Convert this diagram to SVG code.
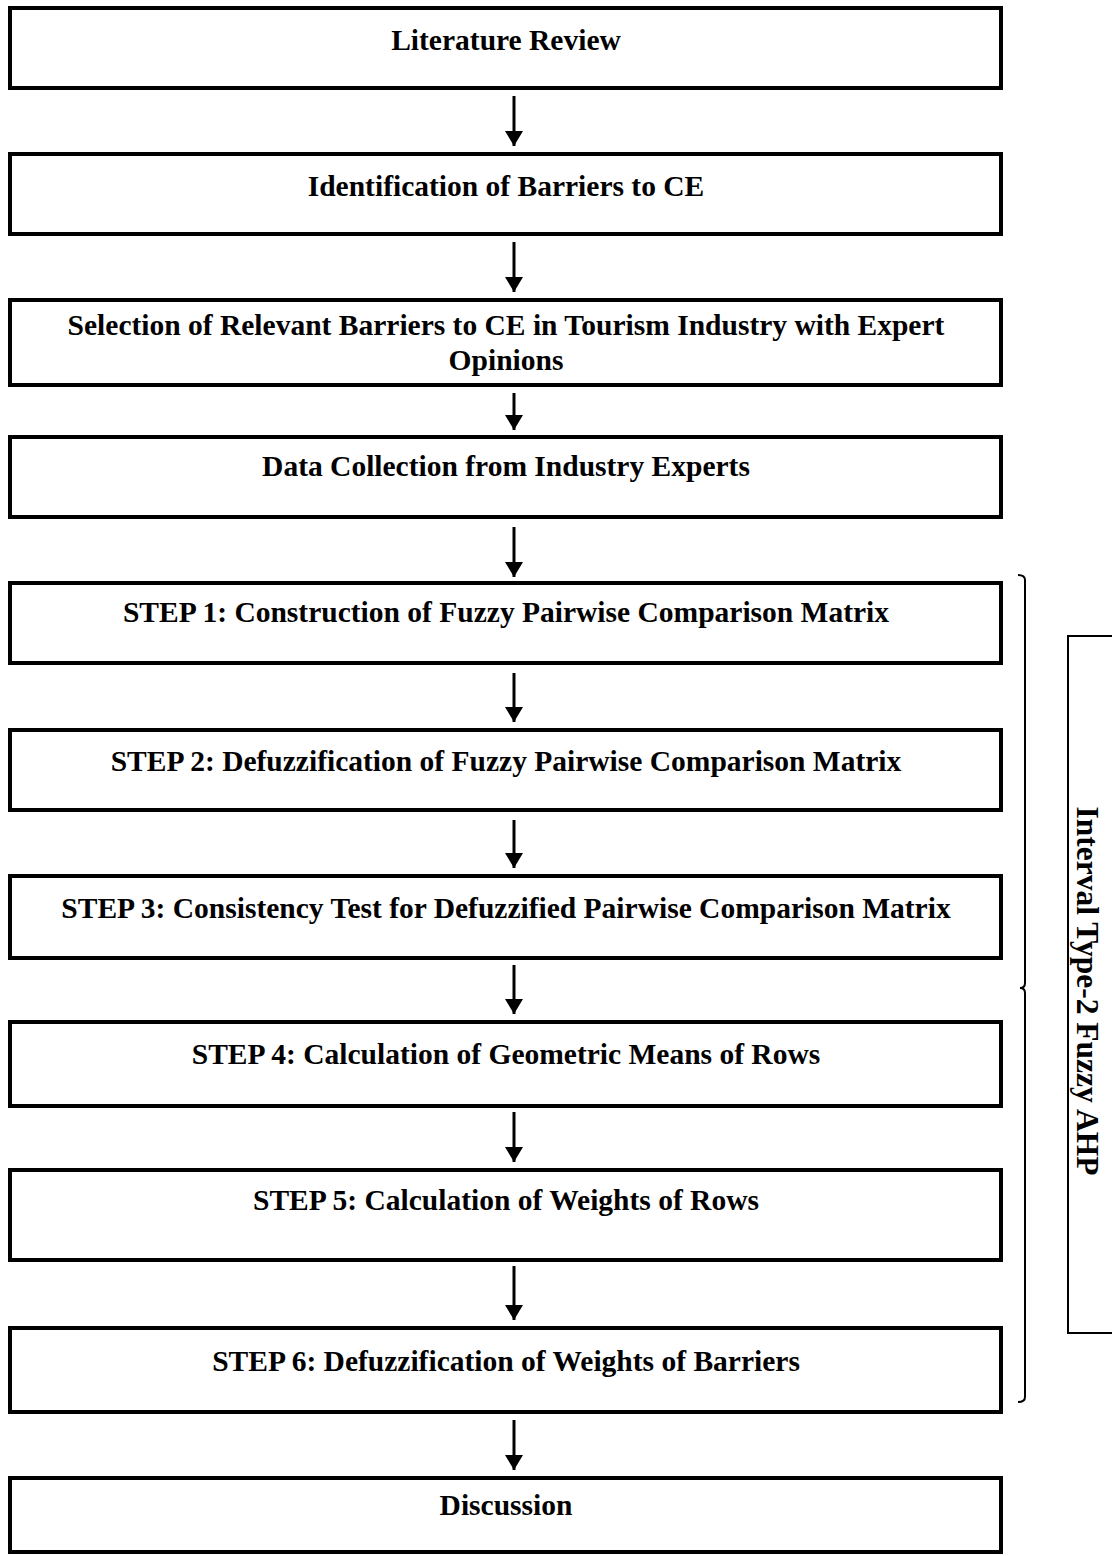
<svg xmlns="http://www.w3.org/2000/svg" width="1112" height="1556" viewBox="0 0 1112 1556">
<style>
.box{fill:#fff;stroke:#000;stroke-width:4}
.t{font-family:"Liberation Serif","Times New Roman",serif;font-weight:bold;font-size:29.5px;text-anchor:middle;fill:#000}
.v{font-size:31.5px}
.c{stroke:#000;stroke-width:3;fill:none}
.thin{stroke:#000;stroke-width:2;fill:none}
</style>
<defs>
<marker id="ah" markerWidth="6" markerHeight="6" refX="5" refY="3" orient="auto" markerUnits="strokeWidth">
<path d="M0,0 L5,3 L0,6 Z" fill="#000"/>
</marker>
</defs>
<rect width="1112" height="1556" fill="#fff"/>
<g id="connectors">
<line class="c" x1="514" y1="96" x2="514" y2="146" marker-end="url(#ah)"/>
<line class="c" x1="514" y1="242" x2="514" y2="292" marker-end="url(#ah)"/>
<line class="c" x1="514" y1="393" x2="514" y2="430" marker-end="url(#ah)"/>
<line class="c" x1="514" y1="527" x2="514" y2="577" marker-end="url(#ah)"/>
<line class="c" x1="514" y1="673" x2="514" y2="722" marker-end="url(#ah)"/>
<line class="c" x1="514" y1="820" x2="514" y2="868" marker-end="url(#ah)"/>
<line class="c" x1="514" y1="965" x2="514" y2="1014" marker-end="url(#ah)"/>
<line class="c" x1="514" y1="1112" x2="514" y2="1162" marker-end="url(#ah)"/>
<line class="c" x1="514" y1="1266" x2="514" y2="1320" marker-end="url(#ah)"/>
<line class="c" x1="514" y1="1420" x2="514" y2="1470" marker-end="url(#ah)"/>
</g>
<g id="n1"><rect class="box" x="10" y="8" width="991" height="80"/><text class="t" x="506" y="50">Literature Review</text></g>
<g id="n2"><rect class="box" x="10" y="154" width="991" height="80"/><text class="t" x="506" y="196">Identification of Barriers to CE</text></g>
<g id="n3"><rect class="box" x="10" y="300" width="991" height="85"/><text class="t" x="506" y="335">Selection of Relevant Barriers to CE in Tourism Industry with Expert</text><text class="t" x="506" y="370">Opinions</text></g>
<g id="n4"><rect class="box" x="10" y="437" width="991" height="80"/><text class="t" x="506" y="476">Data Collection from Industry Experts</text></g>
<g id="s1"><rect class="box" x="10" y="583" width="991" height="80"/><text class="t" x="506" y="622">STEP 1: Construction of Fuzzy Pairwise Comparison Matrix</text></g>
<g id="s2"><rect class="box" x="10" y="730" width="991" height="80"/><text class="t" x="506" y="771">STEP 2: Defuzzification of Fuzzy Pairwise Comparison Matrix</text></g>
<g id="s3"><rect class="box" x="10" y="876" width="991" height="82"/><text class="t" x="506" y="918">STEP 3: Consistency Test for Defuzzified Pairwise Comparison Matrix</text></g>
<g id="s4"><rect class="box" x="10" y="1022" width="991" height="84"/><text class="t" x="506" y="1064">STEP 4: Calculation of Geometric Means of Rows</text></g>
<g id="s5"><rect class="box" x="10" y="1170" width="991" height="90"/><text class="t" x="506" y="1210">STEP 5: Calculation of Weights of Rows</text></g>
<g id="s6"><rect class="box" x="10" y="1328" width="991" height="84"/><text class="t" x="506" y="1371">STEP 6: Defuzzification of Weights of Barriers</text></g>
<g id="n5"><rect class="box" x="10" y="1478" width="991" height="74"/><text class="t" x="506" y="1515">Discussion</text></g>
<g id="brace"><path class="thin" d="M1018,575 Q1025,575 1025,580 L1025,983 Q1025,988 1020,988 Q1025,988 1025,993 L1025,1397 Q1025,1402 1018,1402"/></g>
<g id="ahp"><path class="thin" d="M1112,636 L1068,636 L1068,1333 L1112,1333"/><text class="t v" transform="translate(1077,991) rotate(90)">Interval Type-2 Fuzzy AHP</text></g>
</svg>
